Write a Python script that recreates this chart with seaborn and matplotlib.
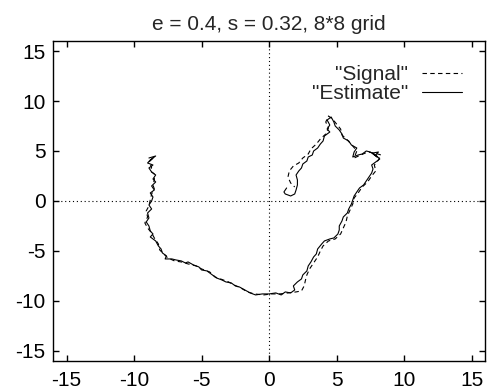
import matplotlib
matplotlib.use("Agg")
import matplotlib.pyplot as plt
import seaborn as sns
from matplotlib.lines import Line2D

# traced values
est_x = [-8.9, -8.4, -8.8, -9.0, -8.6, -8.9, -8.7, -8.4, -8.6, -8.4, -8.7, -8.5, -8.8, -8.6,
         -8.7, -8.9, -8.7, -9.0, -8.9, -9.1, -8.9, -8.8, -8.6, -8.8, -8.4, -8.2, -8.0, -7.9,
         -7.6, -7.7, -7.2, -6.9, -6.5, -6.2, -6.0, -5.6, -5.2, -5.0, -4.6, -4.2, -3.9, -3.5,
         -3.2, -2.8, -2.5, -2.2, -1.8, -1.4, -1.0, -0.5, 0.0, 0.5, 0.9, 1.2, 1.6, 1.9, 1.8,
         2.1, 2.4, 2.5, 2.8, 2.9, 3.1, 3.3, 3.5, 3.6, 3.9, 4.1, 4.5, 4.8, 5.1, 5.2, 5.2, 5.4,
         5.5, 5.8, 5.9, 6.1, 6.2, 6.3, 6.5, 6.7, 7.0, 7.2, 7.4, 7.6, 7.7, 7.6, 7.9, 8.2, 7.9,
         8.1, 7.7, 8.0, 7.5, 7.2, 6.9, 6.6, 6.2, 6.3, 6.5, 6.1, 5.9, 5.5, 5.4, 5.2, 4.9, 4.8,
         4.6, 4.3, 4.5, 4.3, 4.5, 4.1, 4.0, 3.8, 3.6, 3.3, 3.2, 2.9, 2.8, 2.5, 2.4, 2.2, 2.0,
         2.1, 2.1, 2.0, 1.9, 1.6, 1.2, 1.1, 1.3]
est_y = [4.3, 4.5, 4.1, 3.8, 3.6, 3.3, 2.9, 2.6, 2.2, 1.9, 1.5, 1.1, 0.8, 0.4,
         0.0, -0.4, -0.8, -1.2, -1.7, -2.1, -2.5, -3.0, -3.3, -3.6, -4.0, -4.5, -4.8, -5.2,
         -5.5, -5.8, -5.8, -5.9, -6.0, -6.2, -6.1, -6.4, -6.6, -6.9, -7.0, -7.4, -7.7, -7.9,
         -8.1, -8.2, -8.5, -8.6, -8.9, -9.2, -9.4, -9.3, -9.3, -9.2, -9.4, -9.1, -9.2, -8.9, -8.5,
         -8.1, -7.8, -7.4, -7.0, -6.5, -6.1, -5.6, -5.3, -4.8, -4.3, -4.0, -3.8, -3.7, -3.3, -2.9, -2.5, -2.0,
         -1.6, -1.2, -0.8, -0.3, 0.1, 0.5, 0.9, 1.3, 1.6, 2.0, 2.4, 2.8, 3.2, 3.6, 3.9, 4.2, 4.6,
         4.9, 4.8, 4.4, 4.9, 5.0, 4.7, 4.6, 4.4, 4.9, 5.3, 5.6, 6.0, 6.3, 6.7, 7.1, 7.5, 7.9,
         8.4, 8.1, 7.6, 7.2, 6.9, 6.5, 6.0, 5.7, 5.3, 5.0, 4.6, 4.4, 4.0, 3.7, 3.3, 3.0, 2.6,
         2.1, 1.6, 1.1, 0.7, 0.5, 0.7, 0.9, 1.3]

sig_x = [-8.8, -8.5, -8.9, -8.7, -8.8, -8.5, -8.5, -8.6, -8.5, -8.7, -8.8, -8.9, -9.1, -9.0,
         -9.2, -9.0, -8.7, -8.5, -8.2, -8.1, -7.8, -7.5, -7.0, -6.5, -6.0, -5.4, -5.0, -4.4,
         -4.0, -3.6, -3.0, -2.6, -2.1, -1.6, -1.1, -0.4, 0.2, 0.8, 1.4, 2.0, 2.4, 2.6, 2.7,
         2.8, 3.0, 3.3, 3.6, 3.8, 4.0, 4.4, 4.9, 5.3, 5.5, 5.7, 5.8, 6.0, 6.2, 6.3, 6.6, 6.9,
         7.3, 7.6, 7.9, 7.8, 8.1, 8.3, 7.8, 7.3, 6.8, 6.3, 6.5, 6.2, 5.8, 5.4, 5.3, 5.0, 4.7,
         4.4, 4.2, 4.4, 4.2, 3.8, 3.5, 3.1, 2.9, 2.5, 2.2, 1.8, 1.5, 1.4, 1.6, 1.9]
sig_y = [4.1, 4.4, 3.9, 3.4, 3.0, 2.7, 2.1, 1.6, 1.2, 0.7, 0.1, -0.5, -1.0, -1.6,
         -2.2, -2.7, -3.2, -3.7, -4.3, -4.9, -5.3, -5.7, -6.0, -6.1, -6.3, -6.5, -6.8, -7.1,
         -7.6, -7.8, -8.1, -8.4, -8.7, -9.1, -9.3, -9.4, -9.3, -9.3, -9.2, -9.1, -9.0, -8.5, -7.9,
         -7.4, -6.8, -6.2, -5.6, -5.0, -4.5, -4.0, -3.8, -3.3, -2.7, -2.1, -1.5, -0.9, -0.3, 0.3, 0.8, 1.4,
         1.9, 2.5, 3.0, 3.6, 4.1, 4.6, 4.8, 4.9, 4.6, 4.3, 5.0, 5.5, 6.1, 6.6, 7.2, 7.7, 8.2,
         8.5, 7.9, 7.3, 6.7, 6.2, 5.7, 5.2, 4.7, 4.3, 3.8, 3.5, 3.0, 2.4, 1.8, 1.4]

ticks = [-15, -10, -5, 0, 5, 10, 15]
title = "e = 0.4, s = 0.32, 8*8 grid"
fs = 15

sns.set_style("ticks")
plt.rcParams["font.family"] = ["Liberation Sans", "DejaVu Sans"]
plt.rcParams["axes.unicode_minus"] = False

fig = plt.figure(figsize=(4.87, 3.91), dpi=100)
ax = fig.add_axes([0.109, 0.077, 0.887, 0.818])

ax.axhline(0, color="k", lw=0.8, ls=(0, (1, 2.5)), zorder=1)
ax.axvline(0, color="k", lw=0.8, ls=(0, (1, 2.5)), zorder=1)

sns.lineplot(x=sig_x, y=sig_y, sort=False, estimator=None, color="k", lw=0.8,
             linestyle=(0, (4, 3)), ax=ax)
sns.lineplot(x=est_x, y=est_y, sort=False, estimator=None, color="k", lw=0.8, ax=ax)

ax.set_xlim(-16, 16)
ax.set_ylim(-16, 16)
ax.set_xticks(ticks)
ax.set_yticks(ticks)
ax.tick_params(direction="in", length=4.5, width=1, top=True, right=True,
               labelsize=fs, colors="k")
ax.tick_params(axis="x", pad=7.5)
ax.tick_params(axis="y", pad=5.5)
for s in ax.spines.values():
    s.set_linewidth(1)
    s.set_color("k")
ax.set_title(title, fontsize=fs, pad=8)

handles = [Line2D([], [], color="k", lw=0.8, linestyle=(0, (4, 3))),
           Line2D([], [], color="k", lw=0.8)]
ax.legend(handles, ['"Signal"', '"Estimate"'], loc="upper right", frameon=False,
          markerfirst=False, fontsize=fs, handlelength=1.95, handletextpad=0.65,
          labelspacing=0, borderpad=0, borderaxespad=0,
          bbox_to_anchor=(0.947, 0.925))

fig.savefig("out.png", dpi=100)
